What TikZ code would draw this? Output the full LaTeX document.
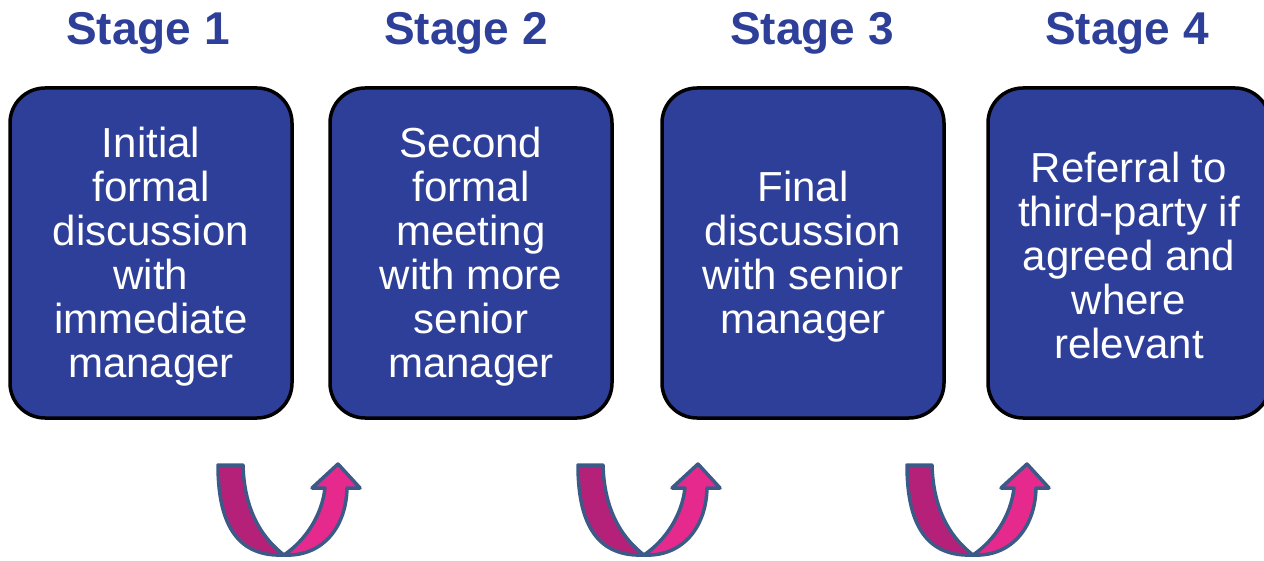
\documentclass[tikz,border=0pt]{standalone}
\usepackage{fontspec}
\setmainfont{Liberation Sans}
\definecolor{boxblue}{HTML}{2E3F9A}
\definecolor{titleblue}{HTML}{2E3F9A}
\definecolor{ribbondark}{HTML}{B52179}
\definecolor{ribbonpink}{HTML}{E62A8D}
\definecolor{ribbonline}{HTML}{3C5A88}
\tikzset{
  stagebox/.style={draw=black, line width=3.5pt, fill=boxblue, rounded corners=35pt,
    minimum width=282pt, minimum height=330pt, inner sep=0pt},
  stagetext/.style={text=white, align=center, inner sep=0pt,
    font=\fontsize{42}{44}\selectfont},
  stagetitle/.style={text=titleblue, anchor=base, inner sep=0pt,
    font=\fontsize{46}{50}\selectfont\bfseries},
  ribbon/.style={draw=ribbonline, line width=3.5pt, line join=round},
}
\begin{document}
\begin{tikzpicture}[x=1pt,y=-1pt]
\useasboundingbox (0,0) rectangle (1264,561);
\clip (0,0) rectangle (1264,561);

% stage titles
\node[stagetitle] (t1) at (148,45) {Stage 1};
\node[stagetitle] (t2) at (466,45) {Stage 2};
\node[stagetitle] (t3) at (812,45) {Stage 3};
\node[stagetitle] (t4) at (1127,45) {Stage 4};

% stage boxes
\node[stagebox] (s1) at (151,253) {};
\node[stagebox] (s2) at (471,253) {};
\node[stagebox] (s3) at (803,253) {};
\node[stagebox] (s4) at (1129,253) {};

% box texts, set a little below the box centres
\node[stagetext] (s1t) at ([yshift=-4pt]s1.center) {Initial\\formal\\discussion\\with\\immediate\\manager};
\node[stagetext] (s2t) at ([yshift=-4pt]s2.center) {Second\\formal\\meeting\\with more\\senior\\manager};
\node[stagetext] (s3t) at ([yshift=-4pt]s3.center) {Final\\discussion\\with senior\\manager};
\node[stagetext] (s4t) at ([yshift=-2pt]s4.center) {Referral to\\third-party if\\agreed and\\where\\relevant};

% U-turn ribbon arrows between the stages
\foreach \dx in {0,360,689}{
  \begin{scope}[xshift=\dx pt]
    \draw[ribbon, fill=ribbondark]
      (218,465) -- (243,465)
      .. controls (244,505) and (258,535) .. (284,555)
      .. controls (240,557) and (218,528) .. (218,465) -- cycle;
    \draw[ribbon, fill=ribbonpink]
      (284,555) .. controls (320,557) and (346,530) .. (347,488)
      -- (360,488) -- (338,464) -- (312,488) -- (325,488)
      .. controls (322,515) and (306,540) .. (284,555) -- cycle;
  \end{scope}
}
\end{tikzpicture}
\end{document}
